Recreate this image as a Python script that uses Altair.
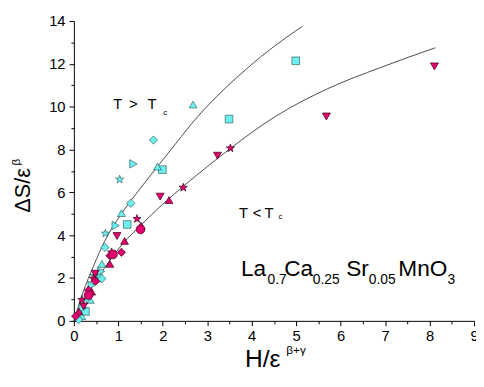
import altair as alt
import pandas as pd

# ---------------- data ----------------
# T > Tc  (cyan)
above_square_x = [4.99, 3.49, 1.99, 1.20, 0.55, 0.26]
above_square_y = [12.14, 9.42, 7.06, 4.50, 2.00, 0.44]
above_triup_x = [2.68, 1.88, 1.07, 0.63, 0.37, 0.18]
above_triup_y = [10.10, 7.20, 5.03, 2.66, 0.98, 0.22]
above_diamond_x = [1.79, 1.28, 0.70, 0.63, 0.30, 0.11]
above_diamond_y = [8.44, 5.49, 3.43, 1.97, 1.05, 0.06]
above_triright_x = [1.34, 0.94, 0.61, 0.40, 0.20]
above_triright_y = [7.33, 4.45, 2.31, 1.66, 0.60]
above_star_x = [1.03, 0.71, 0.45]
above_star_y = [6.60, 4.08, 2.10]

# T < Tc  (magenta)
below_tridown_x = [8.11, 5.68, 3.23, 1.94, 0.97, 0.48, 0.22]
below_tridown_y = [11.88, 9.54, 7.71, 5.80, 3.96, 2.20, 0.67]
below_star_x = [3.52, 2.46, 1.42, 0.85, 0.44, 0.18]
below_star_y = [8.06, 6.22, 4.76, 3.20, 1.97, 0.98]
below_triup_x = [2.14, 1.51, 1.14, 0.81, 0.40, 0.11]
below_triup_y = [5.64, 4.45, 3.73, 2.66, 1.36, 0.44]
below_diamond_x = [1.07, 0.81, 0.49, 0.33, 0.04]
below_diamond_y = [3.20, 3.04, 1.85, 1.43, 0.22]
below_circle_x = [1.50, 0.88, 0.33]
below_circle_y = [4.27, 3.10, 1.20]

# fitted curves
upper_x = [0.0, 0.2, 0.45, 0.7, 1.07, 1.5, 1.88, 2.3, 2.77, 3.2, 3.69, 4.4, 5.14]
upper_y = [0.0, 1.3, 2.6, 3.75, 5.0, 6.2, 7.2, 8.3, 9.5, 10.45, 11.41, 12.65, 13.75]
lower_x = [0.0, 0.3, 0.7, 1.1, 1.5, 2.0, 2.5, 3.0, 3.52, 4.5, 5.71, 6.9, 8.13]
lower_y = [0.0, 1.2, 2.5, 3.6, 4.45, 5.45, 6.35, 7.2, 8.05, 9.5, 10.84, 11.83, 12.75]

x_ticks = [i * 0.5 for i in range(19)]
y_ticks = list(range(15))

groups = ["above", "below"]
markers = ["square", "triangle-up", "triangle-down", "diamond", "triangle-right", "star", "circle"]

series = [
    ("above", "square", above_square_x, above_square_y),
    ("above", "triangle-up", above_triup_x, above_triup_y),
    ("above", "diamond", above_diamond_x, above_diamond_y),
    ("above", "triangle-right", above_triright_x, above_triright_y),
    ("above", "star", above_star_x, above_star_y),
    ("below", "triangle-down", below_tridown_x, below_tridown_y),
    ("below", "star", below_star_x, below_star_y),
    ("below", "triangle-up", below_triup_x, below_triup_y),
    ("below", "diamond", below_diamond_x, below_diamond_y),
    ("below", "circle", below_circle_x, below_circle_y),
]

rows = []
for g, m, xs, ys in series:
    for xv, yv in zip(xs, ys):
        rows.append({"group": g, "marker": m, "x": xv, "y": yv})
pts = pd.DataFrame(rows)

crows = []
for name, xs, ys in [("upper", upper_x, upper_y), ("lower", lower_x, lower_y)]:
    for i, (xv, yv) in enumerate(zip(xs, ys)):
        crows.append({"curve": name, "i": i, "x": xv, "y": yv})
curves = pd.DataFrame(crows)

# ---------------- styling ----------------
FONT = "Liberation Sans"
STAR = ("M0,-1L0.235,-0.324L0.951,-0.309L0.380,0.124L0.588,0.809L0,0.4"
        "L-0.588,0.809L-0.380,0.124L-0.951,-0.309L-0.235,-0.324Z")
shape_range = ["square", "triangle-up", "triangle-down", "diamond", "triangle-right", STAR, "circle"]
size_range = [60, 80, 80, 90, 80, 130, 55]

x_enc = alt.X("x:Q", scale=alt.Scale(domain=[0, 9], nice=False, zero=False),
              axis=alt.Axis(values=x_ticks, title=None, grid=False, labelFlush=False,
                            labelOverlap=False,
                            labelExpr="datum.value % 1 === 0 ? format(datum.value, 'd') : ''",
                            tickSize={"condition": {"test": "datum.value % 1 === 0", "value": 5}, "value": 3},
                            labelFontSize=15, labelFont=FONT, labelColor="black", labelPadding=3,
                            domainColor="black", tickColor="black"))
y_enc = alt.Y("y:Q", scale=alt.Scale(domain=[0, 14], nice=False, zero=False),
              axis=alt.Axis(values=y_ticks, title=None, grid=False, labelFlush=False,
                            labelOverlap=False,
                            labelExpr="datum.value % 2 === 0 ? format(datum.value, 'd') : ''",
                            tickSize={"condition": {"test": "datum.value % 2 === 0", "value": 5}, "value": 3},
                            labelFontSize=15, labelFont=FONT, labelColor="black", labelPadding=4,
                            domainColor="black", tickColor="black"))

lines = alt.Chart(curves).mark_line(color="#4a4a4a", strokeWidth=1, interpolate="monotone").encode(
    x=x_enc, y=y_enc, detail="curve:N", order="i:Q")

points = alt.Chart(pts).mark_point(filled=True, fillOpacity=1, strokeOpacity=1, strokeWidth=0.7).encode(
    x=x_enc, y=y_enc,
    shape=alt.Shape("marker:N", scale=alt.Scale(domain=markers, range=shape_range), legend=None),
    size=alt.Size("marker:N", scale=alt.Scale(domain=markers, range=size_range), legend=None),
    fill=alt.Fill("group:N", scale=alt.Scale(domain=groups, range=["#6FF0F0", "#E5006F"]), legend=None),
    stroke=alt.Stroke("group:N", scale=alt.Scale(domain=groups, range=["#2E6464", "#3A0018"]), legend=None),
)


def txt(s, x, y, size, angle=0):
    return alt.Chart(pd.DataFrame({"t": [s]})).mark_text(
        align="left", baseline="alphabetic", font=FONT, fontSize=size, angle=angle, color="black"
    ).encode(x=alt.value(x), y=alt.value(y), text="t:N")


texts = [
    # y-axis title
    txt("ΔS/ε", -45, 195, 22, 270),
    txt("β", -55, 147, 12, 270),
    # x-axis title
    txt("H/ε", 174, 352, 25),
    txt("β+γ", 216, 339, 12),
    # T > Tc
    txt("T", 40, 90, 15), txt(">", 56, 90, 15), txt("T", 75, 90, 15), txt("c", 91, 96, 8),
    # T < Tc
    txt("T", 168, 200, 15), txt("<", 182, 200, 15), txt("T", 194, 200, 15), txt("c", 208, 201, 8),
    # formula
    txt("La", 170, 259, 23), txt("0.7", 197, 268, 14),
    txt("Ca", 214, 259, 23), txt("0.25", 243, 268, 14),
    txt("Sr", 277, 259, 23), txt("0.05", 300, 268, 14),
    txt("MnO", 330, 259, 23), txt("3", 380, 268, 14),
]

chart = alt.layer(lines, points, *texts).properties(
    width=407, height=305,
    autosize=alt.AutoSizeParams(type="none"),
    padding={"left": 67, "top": 10, "right": 2, "bottom": 60},
).configure_view(stroke=None).configure_axis(domainWidth=1, tickWidth=1)

chart.save("out.html", embed_options={"renderer": "svg", "actions": False})
